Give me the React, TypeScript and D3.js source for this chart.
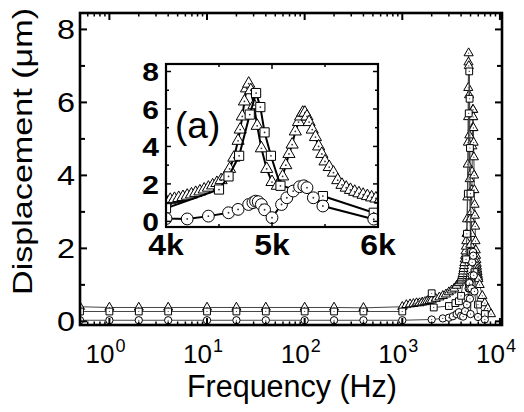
import * as d3 from 'd3';
import { useEffect, useRef } from 'react';

// frequencies of the slow sweep (Hz), shared by the three curves
const lowFreq = [0.5, 1, 2, 4, 10, 20, 40, 100, 200, 400, 1000];

// triangles
const triLowValue = [0.4, 0.38, 0.38, 0.38, 0.38, 0.38, 0.38, 0.38, 0.38, 0.37, 0.4];
const triMidFreq = [1100, 1200, 1300, 1400, 1500, 1600, 1700, 1800, 1900, 2000, 2200, 2400, 2600, 2800, 3000, 3200, 3400, 3600, 3800];
const triMidValue = [0.45, 0.47, 0.48, 0.5, 0.5, 0.52, 0.53, 0.55, 0.56, 0.58, 0.62, 0.66, 0.7, 0.74, 0.8, 0.85, 0.9, 0.98, 1.05];
const triPeakFreq = [4000, 4040, 4080, 4120, 4160, 4200, 4240, 4280, 4320, 4360, 4400, 4440, 4480, 4520, 4560, 4600, 4640, 4680, 4700, 4720, 4740, 4760, 4780, 4800, 4830, 4860, 4900, 4950, 5000, 5050, 5100, 5130, 5160, 5190, 5220, 5250, 5270, 5290, 5310, 5330, 5350, 5380, 5410, 5440, 5470, 5500, 5540, 5580, 5620, 5660, 5700, 5740, 5780, 5820, 5860, 5900, 5940, 5980, 6020];
const triPeakValue = [1.1, 1.15, 1.2, 1.25, 1.3, 1.37, 1.44, 1.52, 1.6, 1.7, 1.8, 1.92, 2.05, 2.2, 2.4, 2.8, 3.4, 4.3, 4.9, 5.6, 6.4, 7.1, 7.35, 7.0, 6.2, 5.1, 3.9, 2.8, 2.1, 1.9, 2.4, 3.0, 3.6, 4.1, 4.8, 5.3, 5.6, 5.8, 5.8, 5.6, 5.3, 4.9, 4.5, 4.0, 3.6, 3.2, 2.9, 2.6, 2.2, 1.95, 1.8, 1.68, 1.58, 1.5, 1.42, 1.35, 1.28, 1.22, 1.16];
const triTailFreq = [6200, 6600, 7000, 7500, 8100];
const triTailValue = [1.0, 0.7, 0.5, 0.35, 0.2];

// squares
const sqLowValue = [0.27, 0.27, 0.27, 0.27, 0.27, 0.27, 0.27, 0.27, 0.27, 0.27, 0.27];
const sqMidFreq = [2000, 2100, 3000, 3500, 3800];
const sqMidValue = [0.77, 0.38, 0.42, 0.5, 0.55];
const sqPeakFreq = [4000, 4500, 4590, 4690, 4790, 4850, 4890, 4930, 4990, 5080, 5480, 5960];
const sqPeakValue = [0.7, 1.7, 2.4, 3.5, 5.7, 6.85, 6.1, 4.75, 3.5, 1.9, 1.35, 0.46];
const sqTailFreq = [7000];
const sqTailValue = [0.2];

// circles
const cirLowValue = [0.03, 0.03, 0.03, 0.03, 0.03, 0.03, 0.03, 0.03, 0.03, 0.03, 0.03];
const cirMidFreq = [2000, 2600, 3000, 3300, 3600, 3800];
const cirMidValue = [0.05, 0.08, 0.1, 0.14, 0.2, 0.25];
const cirPeakFreq = [4000, 4200, 4400, 4590, 4680, 4780, 4820, 4845, 4870, 4900, 4930, 5000, 5090, 5140, 5200, 5260, 5300, 5330, 5390, 5480, 5960];
const cirPeakValue = [0.15, 0.13, 0.28, 0.46, 0.64, 0.9, 1.0, 1.08, 1.05, 0.9, 0.62, 0.2, 0.9, 1.26, 1.62, 1.85, 1.9, 1.8, 1.26, 0.82, 0.12];
const cirTailFreq = [7000];
const cirTailValue = [0.05];

const yTicks = [0, 2, 4, 6, 8];
const decades = [0, 1, 2, 3, 4];
const insetXTicks = [4000, 5000, 6000];
const insetXLabels = ['4k', '5k', '6k'];

const font = '"Liberation Sans", Arial, sans-serif';

export default function App() {
  const ref = useRef<SVGSVGElement>(null);

  const width = 524;
  const height = 412;
  const main = { left: 80, right: 502, top: 13, bottom: 325 };
  const inset = { left: 166, right: 378, top: 64, bottom: 227 };

  useEffect(() => {
    const svg = d3.select(ref.current);
    svg.selectAll('*').remove();

    const x = d3.scaleLog().domain([0.5, 10500]).range([main.left, main.right]);
    const y = d3.scaleLinear().domain([-0.1, 8.45]).range([main.bottom, main.top]);
    const xi = d3.scaleLinear().domain([4000, 6000]).range([inset.left, inset.right]);
    const yi = d3.scaleLinear().domain([-0.3, 8.4]).range([inset.bottom, inset.top]);

    const series = [
      {
        freq: [...lowFreq, ...triMidFreq, ...triPeakFreq, ...triTailFreq],
        value: [...triLowValue, ...triMidValue, ...triPeakValue, ...triTailValue],
        symbol: d3.symbolTriangle, size: [36, 64],
      },
      {
        freq: [...lowFreq, ...sqMidFreq, ...sqPeakFreq, ...sqTailFreq],
        value: [...sqLowValue, ...sqMidValue, ...sqPeakValue, ...sqTailValue],
        symbol: d3.symbolSquare, size: [46, 84],
      },
      {
        freq: [...lowFreq, ...cirMidFreq, ...cirPeakFreq, ...cirTailFreq],
        value: [...cirLowValue, ...cirMidValue, ...cirPeakValue, ...cirTailValue],
        symbol: d3.symbolCircle, size: [42, 110],
      },
    ];

    const defs = svg.append('defs');
    defs.append('clipPath').attr('id', 'clipMain')
      .append('rect')
      .attr('x', main.left).attr('y', main.top)
      .attr('width', main.right - main.left).attr('height', main.bottom - main.top);
    defs.append('clipPath').attr('id', 'clipInset')
      .append('rect')
      .attr('x', inset.left).attr('y', inset.top)
      .attr('width', inset.right - inset.left).attr('height', inset.bottom - inset.top);

    // draws one curve (line + hollow symbols with a centre dot)
    const drawSeries = (g, sx, sy, s, which, lineColor, lineWidth) => {
      const pts = s.freq.map((f, i) => [sx(f), sy(s.value[i])]);
      g.append('path')
        .attr('d', d3.line()(pts))
        .attr('fill', 'none')
        .attr('stroke', lineColor)
        .attr('stroke-width', lineWidth);
      const sym = d3.symbol().type(s.symbol).size(s.size[which]);
      const m = g.selectAll(null).data(pts).enter().append('g')
        .attr('transform', (d) => `translate(${d[0]},${d[1]})`);
      m.append('path')
        .attr('d', sym())
        .attr('fill', 'white')
        .attr('stroke', 'black')
        .attr('stroke-width', 1);
      m.append('circle').attr('r', which ? 0.9 : 0.6).attr('fill', '#333');
    };

    // ---- main plot ----
    const gMain = svg.append('g').attr('clip-path', 'url(#clipMain)');
    series.forEach((s) => drawSeries(gMain, x, y, s, 0, '#444', 1));

    const axes = svg.append('g').attr('stroke', 'black');
    const minor = [];
    for (let n = -1; n <= 4; n++) {
      for (let k = 2; k <= 9; k++) {
        const v = k * Math.pow(10, n);
        if (v > 0.5 && v < 10500) minor.push(v);
      }
    }
    minor.forEach((v) => {
      axes.append('line').attr('x1', x(v)).attr('x2', x(v))
        .attr('y1', main.bottom).attr('y2', main.bottom - 3.5).attr('stroke-width', 1.5);
      axes.append('line').attr('x1', x(v)).attr('x2', x(v))
        .attr('y1', main.top).attr('y2', main.top + 3.5).attr('stroke-width', 1.5);
    });
    decades.forEach((d) => {
      const v = Math.pow(10, d);
      axes.append('line').attr('x1', x(v)).attr('x2', x(v))
        .attr('y1', main.bottom).attr('y2', main.bottom - 7).attr('stroke-width', 2);
      axes.append('line').attr('x1', x(v)).attr('x2', x(v))
        .attr('y1', main.top).attr('y2', main.top + 7).attr('stroke-width', 2);
    });
    d3.range(0, 9).forEach((v) => {
      const len = v % 2 === 0 ? 7 : 5;
      axes.append('line').attr('x1', main.left).attr('x2', main.left + len)
        .attr('y1', y(v)).attr('y2', y(v)).attr('stroke-width', 2);
      axes.append('line').attr('x1', main.right).attr('x2', main.right - len)
        .attr('y1', y(v)).attr('y2', y(v)).attr('stroke-width', 2);
    });
    svg.append('rect')
      .attr('x', main.left).attr('y', main.top)
      .attr('width', main.right - main.left).attr('height', main.bottom - main.top)
      .attr('fill', 'none').attr('stroke', 'black').attr('stroke-width', 2.6);

    // tick labels
    yTicks.forEach((v) => {
      svg.append('text')
        .attr('transform', `translate(75,${y(v) + 10}) scale(1.2,1)`)
        .attr('text-anchor', 'end')
        .style('font-family', font).style('font-size', '27px')
        .text(v);
    });
    decades.forEach((d) => {
      const px = x(Math.pow(10, d));
      svg.append('text')
        .attr('x', px + 5).attr('y', 363)
        .attr('text-anchor', 'end')
        .style('font-family', font).style('font-size', '26px')
        .text('10');
      svg.append('text')
        .attr('x', px + 6).attr('y', 352)
        .style('font-family', font).style('font-size', '18px')
        .text(d);
    });

    // axis titles
    svg.append('text')
      .attr('x', 292).attr('y', 397)
      .attr('text-anchor', 'middle')
      .attr('textLength', 210).attr('lengthAdjust', 'spacingAndGlyphs')
      .style('font-family', font).style('font-size', '31px')
      .text('Frequency (Hz)');
    svg.append('text')
      .attr('transform', 'translate(32,151.5) rotate(-90)')
      .attr('text-anchor', 'middle')
      .attr('textLength', 287).attr('lengthAdjust', 'spacingAndGlyphs')
      .style('font-family', font).style('font-size', '28px')
      .text('Displacement (\u03bcm)');

    // ---- inset ----
    svg.append('rect')
      .attr('x', inset.left).attr('y', inset.top)
      .attr('width', inset.right - inset.left).attr('height', inset.bottom - inset.top)
      .attr('fill', 'white');
    const gIn = svg.append('g').attr('clip-path', 'url(#clipInset)');
    series.forEach((s) => drawSeries(gIn, xi, yi, s, 1, 'black', 2));

    const inAxes = svg.append('g').attr('stroke', 'black').attr('stroke-width', 1.5);
    [4000, 4500, 5000, 5500, 6000].forEach((v) => {
      const len = v % 1000 === 0 ? 5 : 3;
      inAxes.append('line').attr('x1', xi(v)).attr('x2', xi(v))
        .attr('y1', inset.bottom).attr('y2', inset.bottom - len);
      inAxes.append('line').attr('x1', xi(v)).attr('x2', xi(v))
        .attr('y1', inset.top).attr('y2', inset.top + len);
    });
    d3.range(0, 9).forEach((v) => {
      const len = v % 2 === 0 ? 5 : 3;
      inAxes.append('line').attr('x1', inset.left).attr('x2', inset.left + len)
        .attr('y1', yi(v)).attr('y2', yi(v));
      inAxes.append('line').attr('x1', inset.right).attr('x2', inset.right - len)
        .attr('y1', yi(v)).attr('y2', yi(v));
    });
    svg.append('rect')
      .attr('x', inset.left).attr('y', inset.top)
      .attr('width', inset.right - inset.left).attr('height', inset.bottom - inset.top)
      .attr('fill', 'none').attr('stroke', 'black').attr('stroke-width', 2.2);

    yTicks.forEach((v) => {
      svg.append('text')
        .attr('transform', `translate(159,${yi(v) + 10}) scale(1.2,1)`)
        .attr('text-anchor', 'end')
        .style('font-family', font).style('font-size', '25px').style('font-weight', 'bold')
        .text(v);
    });
    insetXTicks.forEach((v, i) => {
      svg.append('text')
        .attr('transform', `translate(${xi(v)},255) scale(1.1,1)`)
        .attr('text-anchor', 'middle')
        .style('font-family', font).style('font-size', '29px').style('font-weight', 'bold')
        .text(insetXLabels[i]);
    });
    svg.append('text')
      .attr('x', 175).attr('y', 138)
      .style('font-family', font).style('font-size', '37px')
      .text('(a)');
  }, []);

  return (
    <svg
      ref={ref}
      width={width}
      height={height}
      style={{ position: 'absolute', left: 0, top: 0, background: 'white' }}
    />
  );
}
